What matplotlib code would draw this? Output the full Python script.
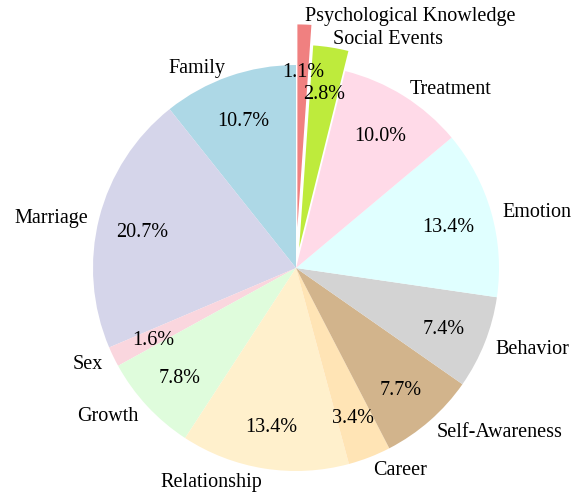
import matplotlib
matplotlib.use("Agg")
import matplotlib.pyplot as plt
import matplotlib.transforms as mtransforms

labels = ['Family', 'Marriage', 'Sex', 'Growth', 'Relationship', 'Career',
          'Self-Awareness', 'Behavior', 'Emotion', 'Treatment',
          'Social Events', 'Psychological Knowledge']
shares = [10.7, 20.7, 1.6, 7.8, 13.4, 3.4, 7.7, 7.4, 13.4, 10.0, 2.8, 1.1]
colors = ['#ADD8E6', '#D5D5EA', '#FAD6DE', '#DFFCDC', '#FFF0CC', '#FFE4B5',
          '#D2B48C', '#D3D3D3', '#E0FFFF', '#FFDAE8', '#BEEB3C', '#F08080']
explode = [0, 0, 0, 0, 0, 0, 0, 0, 0, 0, 0.1, 0.2]

plt.rcParams['font.family'] = ['Liberation Serif', 'DejaVu Serif']

fig = plt.figure(figsize=(5.8, 4.93), dpi=100)
ax = fig.add_axes([0, 0, 1, 1])

wedges, texts, autotexts = ax.pie(shares, labels=labels, colors=colors, explode=explode,
                                  startangle=90, autopct='%1.1f%%',
                                  pctdistance=0.78, labeldistance=1.055,
                                  textprops={'fontsize': 14.5})

# nudge text down a bit, Liberation Serif sits higher than the original font
shift = mtransforms.ScaledTranslation(0, -3 / 100, fig.dpi_scale_trans)
for t in texts + autotexts:
    t.set_transform(t.get_transform() + shift)

# center of the pie sits at (296, 268) px, radius ~203 px
ax.set_aspect('auto')
ax.set_xlim(-296 / 203, (580 - 296) / 203)
ax.set_ylim(-(493 - 268) / 203, 268 / 203)
ax.axis('off')

plt.savefig('out.png', dpi=100)
